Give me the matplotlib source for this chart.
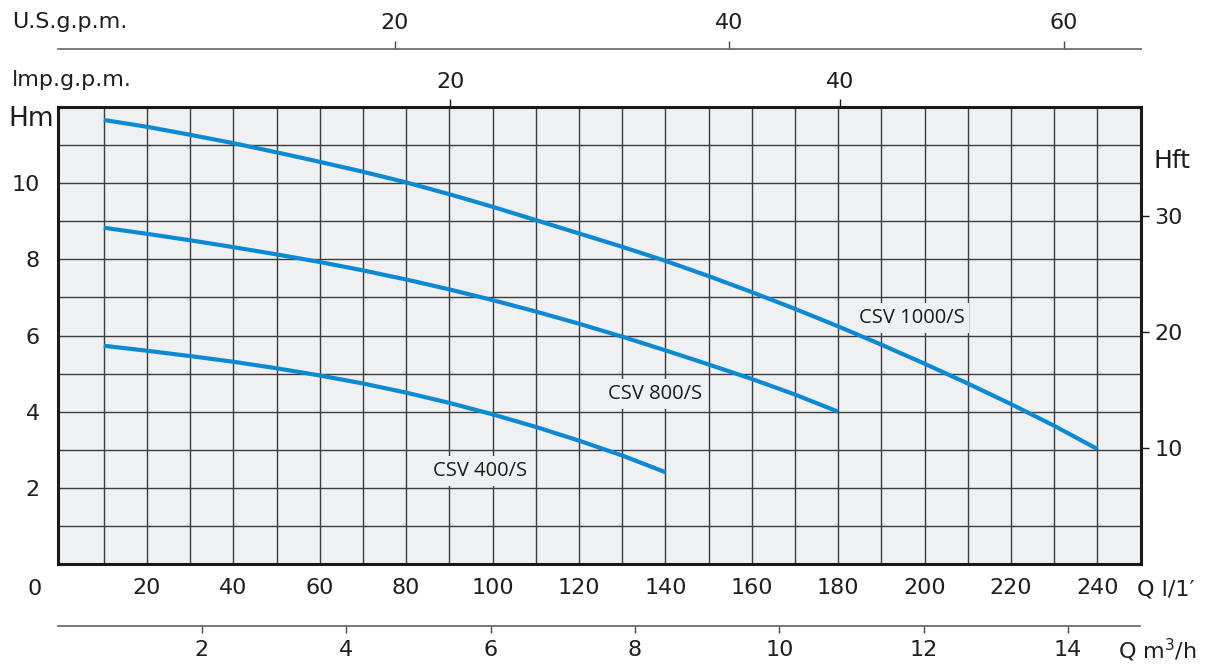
import matplotlib
matplotlib.use("Agg")
import matplotlib.pyplot as plt
import numpy as np

# ---- data ----
q_1000 = [10, 20, 30, 40, 50, 60, 70, 80, 90, 100, 110, 120, 130, 140, 150, 160, 170, 180, 190, 200, 210, 220, 230, 240]
h_1000 = [11.66, 11.48, 11.27, 11.05, 10.81, 10.56, 10.30, 10.02, 9.71, 9.38, 9.03, 8.68, 8.33, 7.96,
          7.56, 7.14, 6.70, 6.24, 5.76, 5.26, 4.74, 4.20, 3.63, 3.02]
q_800 = [10, 20, 30, 40, 50, 60, 70, 80, 90, 100, 110, 120, 130, 140, 150, 160, 170, 180]
h_800 = [8.83, 8.67, 8.50, 8.32, 8.13, 7.93, 7.71, 7.47, 7.21, 6.93, 6.63, 6.31, 5.97, 5.61, 5.24, 4.86, 4.45, 4.00]
q_400 = [10, 20, 30, 40, 50, 60, 70, 80, 90, 100, 110, 120, 130, 140]
h_400 = [5.73, 5.60, 5.46, 5.31, 5.14, 4.95, 4.74, 4.50, 4.23, 3.93, 3.60, 3.24, 2.85, 2.41]
names = ["CSV 1000/S", "CSV 800/S", "CSV 400/S"]
label_pos = [(197, 6.47), (137.6, 4.47), (97, 2.45)]

x_grid = list(range(10, 250, 10))
x_labels = [str(v) if v % 20 == 0 else "" for v in x_grid]
y_grid = list(range(1, 12))
y_labels = [str(v) if v % 2 == 0 and v <= 10 else "" for v in y_grid]
ft_ticks = [10, 20, 30]
imp_ticks = [20, 40]
us_ticks = [20, 40, 60]
m3_ticks = [2, 4, 6, 8, 10, 12, 14]

L_PER_IMP = 4.51   # as drawn on the chart
L_PER_US = 3.87    # as drawn on the chart
FT_PER_M = 3.2808

W, H = 1212, 666
fig = plt.figure(figsize=(W / 100, H / 100), dpi=100)
FONT = "DejaVu Sans"
plt.rcParams['font.family'] = [FONT]
TXT = "#1e1e1e"
FS = 16

def fx(px):
    return px / W
def fy(py):
    return 1 - py / H

x0, x1 = 58, 1140.5
ytop, ybot = 107, 564
ax = fig.add_axes([fx(x0), fy(ybot), (x1 - x0) / W, (ybot - ytop) / H])
ax.set_facecolor("#eff0f2")
ax.set_xlim(-0.6, 250)
ax.set_ylim(0, 12)

ax.set_xticks(x_grid)
ax.set_xticklabels(x_labels)
ax.set_yticks(y_grid)
ax.set_yticklabels(y_labels)
ax.tick_params(axis="x", length=0, pad=10, labelsize=FS, labelcolor=TXT)
ax.tick_params(axis="y", length=0, pad=13, labelsize=FS, labelcolor=TXT)
ax.grid(True, color="#3c3c3c", lw=1.0)
ax.set_axisbelow(True)
for s in ax.spines.values():
    s.set_linewidth(2.2)
    s.set_color("#1a1a1a")

blue = "#0a8ad2"
for q, h in [(q_1000, h_1000), (q_800, h_800), (q_400, h_400)]:
    ax.plot(q, h, color=blue, lw=3.0, solid_capstyle="butt", solid_joinstyle="round", zorder=3)

for name, (lx, ly) in zip(names, label_pos):
    ax.text(lx, ly, name, ha="center", va="center", fontsize=14.5, family="Open Sans",
            fontstretch="normal", color="#1a1a1a", zorder=2,
            bbox=dict(boxstyle="square,pad=0.25", fc="#eff0f2", ec="none"))

# right Hft axis
sec_r = ax.secondary_yaxis("right", functions=(lambda m: m * FT_PER_M, lambda f: f / FT_PER_M))
sec_r.set_yticks(ft_ticks)
sec_r.tick_params(length=6, width=1.0, pad=4, labelsize=FS, labelcolor=TXT, color="#1a1a1a")
sec_r.spines["right"].set_visible(False)

# top Imp gpm ticks on the frame
sec_t = ax.secondary_xaxis("top", functions=(lambda q: q / L_PER_IMP, lambda g: g * L_PER_IMP))
sec_t.set_xticks(imp_ticks)
sec_t.tick_params(length=6, width=1.0, pad=5, labelsize=FS, labelcolor=TXT, color="#1a1a1a")
sec_t.spines["top"].set_visible(False)

# US gpm scale line
ax_us = fig.add_axes([fx(x0), fy(48.7), (x1 - x0) / W, 1e-5])
ax_us.set_xlim(-0.6 / L_PER_US, 250 / L_PER_US)
ax_us.set_ylim(0, 1)
for k in ["left", "right", "bottom"]:
    ax_us.spines[k].set_visible(False)
ax_us.spines["top"].set_color("#6e6e6e")
ax_us.spines["top"].set_linewidth(1.3)
ax_us.set_facecolor("none")
ax_us.set_yticks([])
ax_us.xaxis.set_ticks_position("top")
ax_us.set_xticks(us_ticks)
ax_us.tick_params(axis="x", length=6, width=1.0, pad=5, labelsize=FS, labelcolor=TXT, color="#4a4a4a")

# m3/h scale line
ax_m3 = fig.add_axes([fx(x0), fy(626), (x1 - x0) / W, 1e-5])
ax_m3.set_xlim((-0.6 + 0.7) / 16.71, (250 + 0.7) / 16.71)
ax_m3.set_ylim(0, 1)
for k in ["left", "right", "top"]:
    ax_m3.spines[k].set_visible(False)
ax_m3.spines["bottom"].set_color("#6e6e6e")
ax_m3.spines["bottom"].set_linewidth(1.3)
ax_m3.set_facecolor("none")
ax_m3.set_yticks([])
ax_m3.set_xticks(m3_ticks)
ax_m3.tick_params(axis="x", length=5, width=1.0, pad=5, labelsize=FS, labelcolor=TXT, color="#4a4a4a")

# free texts
fig.text(fx(12), fy(22), "U.S.g.p.m.", ha="left", va="center", fontsize=FS, color=TXT)
fig.text(fx(12), fy(80), "lmp.g.p.m.", ha="left", va="center", fontsize=FS, color=TXT)
fig.text(fx(8), fy(119), "Hm", ha="left", va="center", fontsize=19, color=TXT)
fig.text(fx(1153), fy(161), "Hft", ha="left", va="center", fontsize=18, color=TXT)
fig.text(fx(35), fy(589), "0", ha="center", va="center", fontsize=FS, color=TXT)
fig.text(fx(1137), fy(589), "Q l/1\u2032", ha="left", va="center", fontsize=FS, color=TXT)
fig.text(fx(1118), fy(650), "Q m$^3$/h", ha="left", va="center", fontsize=FS, color=TXT)

fig.savefig("out.png", dpi=100)
